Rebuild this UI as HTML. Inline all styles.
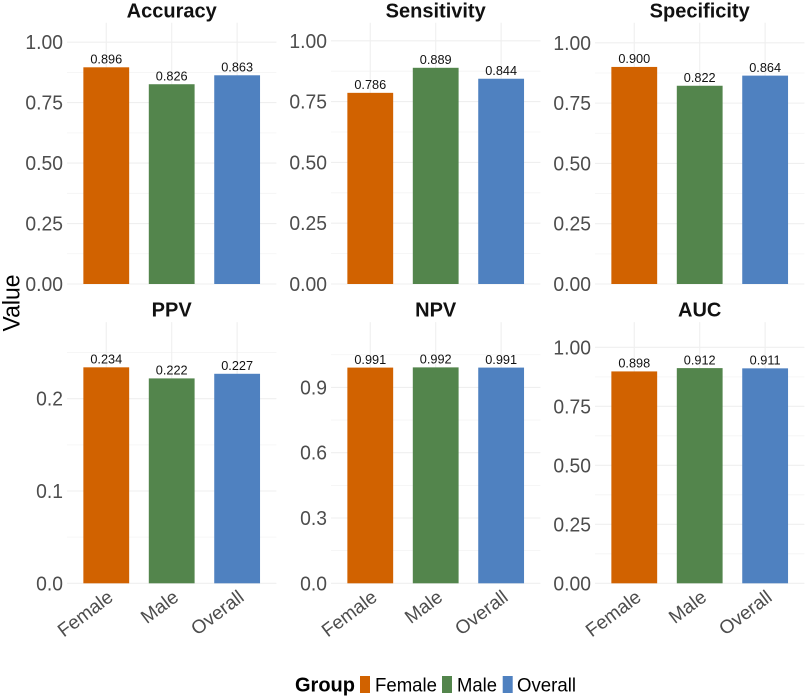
<!DOCTYPE html>
<html>
<head>
<meta charset="utf-8">
<style>
html,body{margin:0;padding:0;background:#fff;}
svg{display:block;font-family:"Liberation Sans",sans-serif;}
</style>
</head>
<body>
<svg id="chart" xmlns="http://www.w3.org/2000/svg" width="807" height="699" viewBox="0 0 807 699">
<text transform="translate(19.5,303) rotate(-90)" text-anchor="middle" font-size="24" textLength="57" lengthAdjust="spacingAndGlyphs" fill="#000">Value</text>
<g>
<text x="295" y="691.5" font-size="20" font-weight="bold" fill="#000">Group</text>
<rect x="360" y="676" width="10" height="17" fill="#D16200"/>
<text x="375" y="691.5" font-size="19.8" textLength="62" lengthAdjust="spacingAndGlyphs" fill="#000">Female</text>
<rect x="442" y="676" width="10" height="17" fill="#53854C"/>
<text x="457" y="691.5" font-size="19.8" textLength="40" lengthAdjust="spacingAndGlyphs" fill="#000">Male</text>
<rect x="502.7" y="676" width="10" height="17" fill="#4F81C0"/>
<text x="517" y="691.5" font-size="19.8" textLength="59" lengthAdjust="spacingAndGlyphs" fill="#000">Overall</text>
</g>
</svg>
<script>
const categories = ['Female', 'Male', 'Overall'];
const panelTitles = ['Accuracy', 'Sensitivity', 'Specificity', 'PPV', 'NPV', 'AUC'];
const accuracyValues = [0.896, 0.826, 0.863];
const sensitivityValues = [0.786, 0.889, 0.844];
const specificityValues = [0.900, 0.822, 0.864];
const ppvValues = [0.234, 0.222, 0.227];
const npvValues = [0.991, 0.992, 0.991];
const aucValues = [0.898, 0.912, 0.911];
const panelValues = [accuracyValues, sensitivityValues, specificityValues, ppvValues, npvValues, aucValues];
const unitTicks = ['0.00', '0.25', '0.50', '0.75', '1.00'];
const ppvTicks = ['0.0', '0.1', '0.2'];
const npvTicks = ['0.0', '0.3', '0.6', '0.9'];
const panelTicks = [unitTicks, unitTicks, unitTicks, ppvTicks, npvTicks, unitTicks];
const panelDomainMax = [1.08, 1.074, 1.083, 0.283, 1.2, 1.107];
const barColors = ['#D16200', '#53854C', '#4F81C0'];

const svgNS = 'http://www.w3.org/2000/svg';
const svg = document.getElementById('chart');
const PANEL_W = 209.4, PANEL_H = 261.2, COL_STEP = 264;

function mk(parent, tag, attrs, text) {
  const el = document.createElementNS(svgNS, tag);
  for (const k in attrs) el.setAttribute(k, attrs[k]);
  if (text !== undefined) el.textContent = text;
  parent.appendChild(el);
  return el;
}
function condense(el, factor) {
  el.setAttribute('textLength', el.getComputedTextLength() * factor);
  el.setAttribute('lengthAdjust', 'spacingAndGlyphs');
}
function slug(s) { return s.toLowerCase(); }

panelTitles.forEach(function (title, p) {
  const col = p % 3, row = Math.floor(p / 3);
  const left = 67 + COL_STEP * col;
  const bottom = row === 0 ? 284 : 583.3;
  const top = bottom - PANEL_H;
  const step = PANEL_W / 3.2;
  const xScale = function (i) { return left + step * (i + 0.6); };
  const yScale = function (v) { return bottom - (v / panelDomainMax[p]) * PANEL_H; };
  const name = slug(title);

  const g = mk(svg, 'g', {});
  
  

  const ticks = panelTicks[p];
  const tickNums = ticks.map(Number);
  const minorStep = (tickNums[1] - tickNums[0]) / 2;
  for (let m = minorStep; m < panelDomainMax[p]; m += 2 * minorStep) {
    const minor = mk(g, 'line', {x1: left, x2: left + PANEL_W, y1: yScale(m), y2: yScale(m), stroke: '#f4f4f4', 'stroke-width': 0.8});
    
    
  }
  ticks.forEach(function (t) {
    const y = yScale(Number(t));
    const line = mk(g, 'line', {x1: left, x2: left + PANEL_W, y1: y, y2: y, stroke: '#efefef', 'stroke-width': 1.1});
    
    
    const label = mk(g, 'text', {x: left - 4, y: y + 7, 'text-anchor': 'end', 'font-size': 20, fill: '#4d4d4d'}, t);
    
    
    condense(label, 0.965);
  });
  categories.forEach(function (c, i) {
    const vline = mk(g, 'line', {x1: xScale(i), x2: xScale(i), y1: top, y2: bottom, stroke: '#efefef', 'stroke-width': 1.1});
    
    
  });

  const head = mk(g, 'text', {x: left + PANEL_W / 2, y: top - 5.5, 'text-anchor': 'middle', 'font-size': 20, 'font-weight': 'bold', fill: '#111'}, title);
  
  

  panelValues[p].forEach(function (v, i) {
    const cx = xScale(i), bw = step * 0.7, y = yScale(v);
    const bar = mk(g, 'rect', {x: cx - bw / 2, y: y, width: bw, height: bottom - y, fill: barColors[i]});
    
    
    const val = mk(g, 'text', {x: cx, y: y - 3.8, 'text-anchor': 'middle', 'font-size': 13.2, fill: '#111'}, v.toFixed(3));
    
    
    condense(val, 0.965);
    if (row === 1) {
      const ax = cx + 4.5, ay = bottom + 11.5;
      const xl = mk(g, 'text', {transform: 'translate(' + ax + ',' + ay + ') rotate(-37)', 'text-anchor': 'end', 'font-size': 19, fill: '#4d4d4d', x: 0, y: 6}, categories[i]);
      
      
    }
  });
});
</script>
</body>
</html>
